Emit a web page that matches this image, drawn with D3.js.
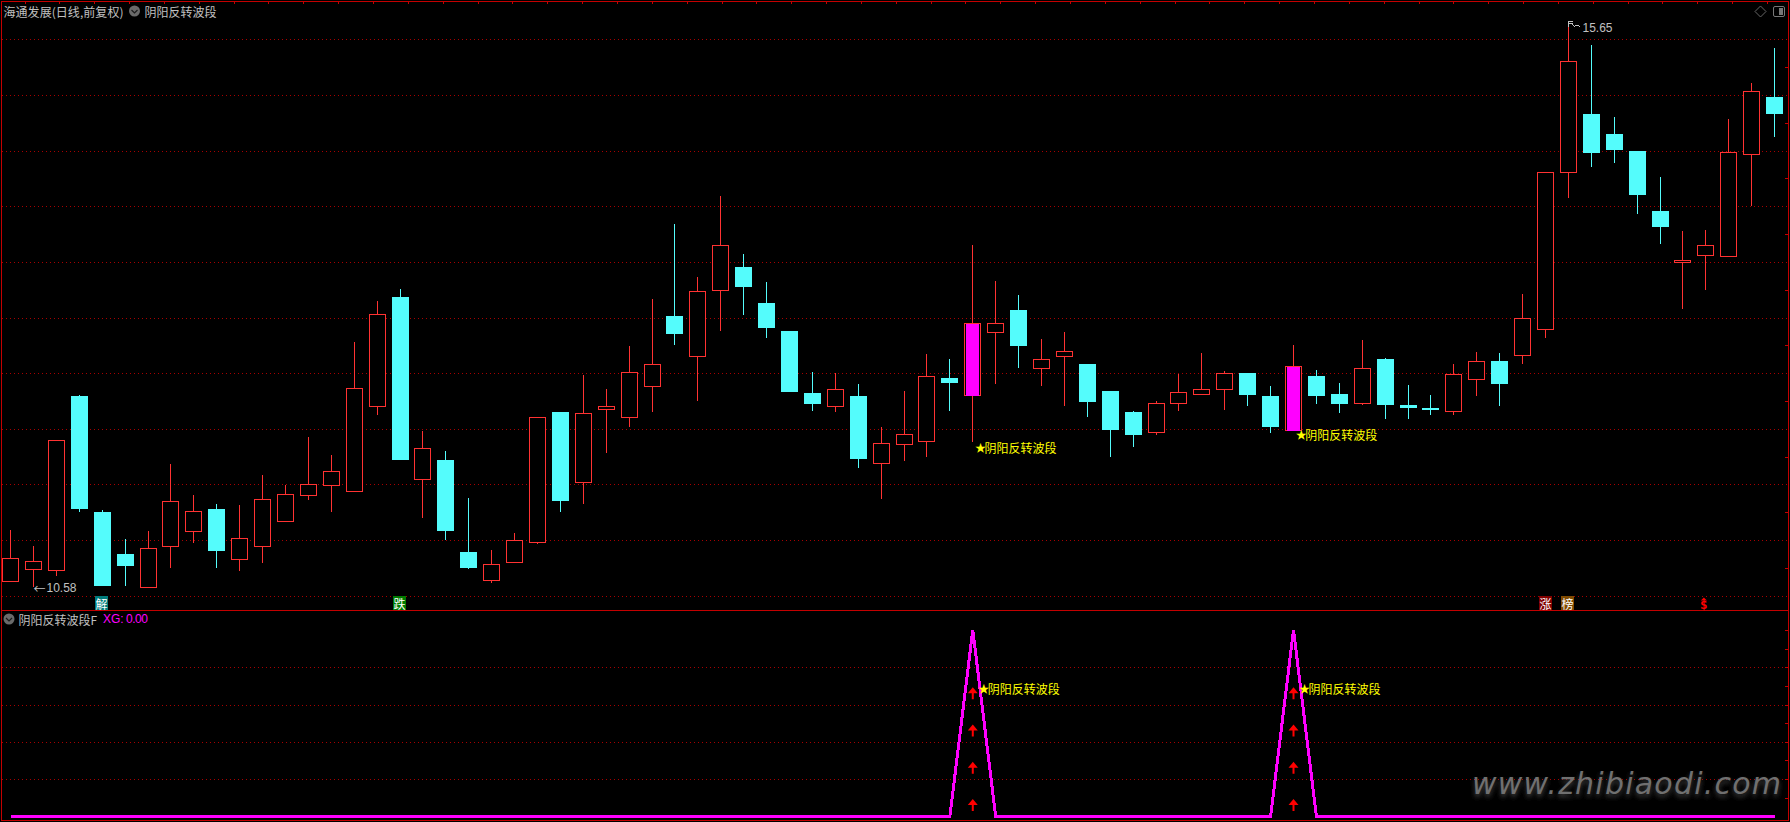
<!DOCTYPE html>
<html><head><meta charset="utf-8">
<script src="https://cdn.jsdelivr.net/npm/d3@7/dist/d3.min.js"></script>
<style>html,body{margin:0;padding:0;background:#000;overflow:hidden}svg{display:block}</style>
</head><body><svg id="c" width="1790" height="822"></svg>
<script>
const opens=[10.63,10.74,10.73,12.29,11.25,10.87,10.58,10.95,11.08,11.28,10.83,10.95,11.17,11.40,11.49,11.44,12.20,13.18,11.55,11.72,10.89,10.64,10.80,10.98,12.15,11.52,12.18,12.11,12.38,13.01,12.65,13.25,13.45,13.13,12.88,12.32,12.20,12.29,11.69,11.86,11.89,12.46,12.30,12.87,13.07,12.55,12.65,12.58,12.34,12.15,11.97,12.23,12.31,12.36,12.50,12.29,11.99,12.47,12.31,12.23,12.63,12.21,12.19,12.16,12.45,12.61,12.66,12.90,14.31,14.83,14.65,14.50,13.96,13.50,13.56,13.55,14.47,14.98];
const highs=[11.09,10.95,11.90,12.30,11.27,11.01,11.08,11.68,11.40,11.32,11.31,11.58,11.49,11.93,11.76,12.78,13.15,13.26,11.98,11.80,11.38,10.91,11.06,12.11,12.15,12.48,12.36,12.74,13.17,13.84,13.36,14.09,13.57,13.32,12.88,12.51,12.50,12.40,12.02,12.34,12.67,12.63,13.65,13.33,13.20,12.81,12.87,12.58,12.34,12.16,12.25,12.49,12.68,12.52,12.50,12.38,12.75,12.53,12.41,12.80,12.64,12.39,12.30,12.58,12.69,12.68,13.21,14.31,15.65,15.45,14.80,14.50,14.26,13.78,13.79,14.78,15.11,15.42];
const lows=[10.63,10.58,10.68,11.25,10.59,10.59,10.58,10.75,10.97,10.75,10.72,10.79,11.17,11.36,11.25,11.44,12.12,11.72,11.20,11.00,10.74,10.61,10.79,10.96,11.25,11.32,11.78,12.02,12.15,12.75,12.25,12.88,13.02,12.82,12.33,12.16,12.15,11.65,11.37,11.71,11.75,12.16,11.88,12.40,12.55,12.38,12.20,12.11,11.75,11.84,11.94,12.16,12.31,12.17,12.20,11.96,11.99,12.22,12.14,12.21,12.09,12.09,12.12,12.12,12.29,12.20,12.58,12.82,14.07,14.35,14.39,13.93,13.66,13.08,13.25,13.54,14.00,14.62];
const closes=[10.84,10.81,11.90,11.28,10.59,10.77,10.93,11.35,11.26,10.90,11.02,11.37,11.41,11.50,11.62,12.37,13.03,11.72,11.83,11.08,10.75,10.78,11.00,12.11,11.35,12.14,12.20,12.51,12.58,12.85,13.24,13.65,13.27,12.91,12.33,12.22,12.36,11.73,11.87,11.95,12.47,12.41,12.95,12.95,12.74,12.63,12.70,12.24,11.99,11.94,12.23,12.33,12.36,12.50,12.30,12.02,12.56,12.29,12.22,12.55,12.21,12.19,12.17,12.49,12.61,12.40,13.00,14.31,15.31,14.48,14.51,14.10,13.81,13.52,13.65,14.49,15.04,14.83];
const signalBars=[42,56];
const signalLabel="阴阳反转波段";
const priceTicks=[10.5,11,11.5,12,12.5,13,13.5,14,14.5,15,15.5];
const priceMinorTicks=[10.75,11.25,11.75,12.25,12.75,13.25,13.75,14.25,14.75,15.25];
const xgTicks=[0.2,0.4,0.6,0.8];
const xgMinorTicks=[0.1,0.2,0.3,0.4,0.5,0.6,0.7,0.8,0.9,1];
const arrowLevels=[0.66,0.46,0.26,0.06];
const xgLabelLevel=0.69;
const markerBars=[4,17,67,68];
const markerTexts=["解","跌","涨","榜"];
const markerColors=["#007b7b","#007b00","#800000","#7f4a00"];
const dollarBar=74;
const lowBar=1, lowValue="10.58";
const highBar=68, highText="15.65";
const titleMain="海通发展(日线,前复权)";
const titleSub="阴阳反转波段F";
const xgName="XG:", xgValue="0.00";
const watermark="www.zhibiaodi.com";

const RED="#ff3232",CYAN="#54fcfc",MAG="#ff00ff",BORDER="#c40000",GRID="#a80000",GRAY="#c0c0c0";
const CJK="'Noto Sans CJK SC','Noto Sans',sans-serif";
const LAT="'Liberation Sans',Arial,sans-serif";
const svg=d3.select("#c");
svg.append("rect").attr("width",1790).attr("height",822).attr("fill","#000");
const idx=d3.range(opens.length);
const x=d3.scalePoint().domain(idx).range([10.6,1774.6]);
const y=d3.scaleLinear().domain([10.5,15.5]).range([595.6,39.4]);
const ys=d3.scaleLinear().domain([0,1]).range([816.3,630]);
const px=v=>Math.round(v-0.5)+0.5;
const defs=svg.append("defs");
defs.append("filter").attr("id","wm").attr("x","-5%").attr("y","-30%").attr("width","110%").attr("height","170%")
  .append("feGaussianBlur").attr("stdDeviation",2.6);

function grid(scale,ticks){
  const g=svg.append("g").attr("transform","translate(2,0)")
    .call(d3.axisLeft(scale).tickValues(ticks).tickSize(-1786).tickFormat(""));
  g.select(".domain").remove();
  g.selectAll("line").attr("stroke",GRID).attr("stroke-dasharray","1 3").attr("shape-rendering","crispEdges");
  g.selectAll("text").remove();
}
grid(y,priceTicks); grid(ys,xgTicks);

// frame
const frame=svg.append("g").attr("stroke",BORDER).attr("shape-rendering","crispEdges");
[[0.5,1.5,1789,1.5],[0.5,610.5,1789,610.5],[0.5,820.5,1789,820.5],[1.5,1,1.5,821],[1788.5,1,1788.5,821]].forEach(l=>
  frame.append("line").attr("x1",l[0]).attr("y1",l[1]).attr("x2",l[2]).attr("y2",l[3]));
d3.range(0,51).forEach(i=>{const tx=px(25+i*34.85);
  frame.append("line").attr("x1",tx).attr("x2",tx).attr("y1",1).attr("y2",4);});
const rightAxis=(scale,ticks)=>{const g=svg.append("g").attr("transform","translate(1788,0)")
  .call(d3.axisLeft(scale).tickValues(ticks).tickSize(3).tickFormat(""));
  g.select(".domain").remove();g.selectAll("text").remove();
  g.selectAll("line").attr("stroke",BORDER).attr("shape-rendering","crispEdges");};
rightAxis(y,priceMinorTicks); rightAxis(ys,xgMinorTicks);

// candles
const candles=svg.append("g").attr("shape-rendering","crispEdges");
idx.forEach(i=>{
  const o=opens[i],h=highs[i],l=lows[i],c=closes[i],up=c>=o,cx=px(x(i));
  const col=up?RED:CYAN;
  const top=Math.round(y(Math.max(o,c))),bot=Math.round(y(Math.min(o,c)));
  candles.append("line").attr("x1",cx).attr("x2",cx).attr("y1",y(h)).attr("y2",y(l)).attr("stroke",col);
  if(up){
    candles.append("rect").attr("x",cx-8).attr("y",top+0.5).attr("width",16).attr("height",Math.max(bot-top,1))
      .attr("fill","#000").attr("stroke",RED);
    if(signalBars.includes(i)){
      candles.append("rect").attr("x",cx-6.5).attr("y",top+1).attr("width",13).attr("height",Math.max(bot-top,1))
        .attr("fill",MAG);
    }
  }else{
    candles.append("rect").attr("x",cx-8.5).attr("y",top).attr("width",17).attr("height",Math.max(bot-top,2)).attr("fill",CYAN);
  }
});

// labels on price panel
function label(text,lx,ly){
  const t=svg.append("text").attr("x",lx-1.5).attr("y",ly).attr("dominant-baseline","central")
    .attr("font-family",CJK).attr("font-size",12).attr("fill","#ffff00");
  t.append("tspan").attr("font-size",11).text("★");
  t.append("tspan").attr("dx",-1.5).text(text);
}
signalBars.forEach(i=>label(signalLabel,x(i)+3.8,y(lows[i])+4.5));

// low & high annotations
const lowT=svg.append("text").attr("x",x(lowBar)).attr("y",y(lows[lowBar])+1.5).attr("dominant-baseline","central")
  .attr("font-family",LAT).attr("font-size",12).attr("fill",GRAY);
lowT.append("tspan").attr("font-family",CJK).text("←");
lowT.append("tspan").attr("dx",1).text(lowValue);
const hx=px(x(highBar)),hy=y(highs[highBar]);
svg.append("path").attr("d",`M${hx},${hy} l0,-1.5 l4,0 M${hx},${hy} l0,4 M${hx},${hy+1} l4,0 M${hx+3},${hy+1} l3,2.5 l3,-1 l3,2`)
  .attr("fill","none").attr("stroke",GRAY).attr("stroke-width",1).attr("shape-rendering","crispEdges");
svg.append("text").attr("x",hx+14).attr("y",hy+5.2).attr("dominant-baseline","central")
  .attr("font-family",LAT).attr("font-size",12).attr("fill",GRAY).text(highText);

// markers
markerBars.forEach((b,k)=>{
  const cx=x(b);
  svg.append("rect").attr("x",Math.round(cx-7)).attr("y",596).attr("width",13).attr("height",14).attr("fill",markerColors[k]);
  svg.append("text").attr("x",Math.round(cx-7)+6.5).attr("y",603).attr("text-anchor","middle").attr("dominant-baseline","central")
    .attr("font-family",CJK).attr("font-size",12).attr("fill","#fff").text(markerTexts[k]);
});
const dx=x(dollarBar)-2;
svg.append("path").attr("d",`M${dx-3},600.5 L${dx},597.5 L${dx+3},600.5 Z`).attr("fill","#f00");
svg.append("text").attr("x",dx).attr("y",604.5).attr("text-anchor","middle").attr("dominant-baseline","central")
  .attr("font-family","'DejaVu Sans Mono',monospace").attr("font-weight","bold").attr("font-size",12.5).attr("fill","#f00").text("$");

// XG line
const xgValues=idx.map(i=>signalBars.includes(i)?1:0);
const line=d3.line().x((d,i)=>x(i)).y(d=>ys(d));
svg.append("path").attr("d",line(xgValues)).attr("fill","none").attr("stroke",MAG).attr("stroke-width",3)
  .attr("stroke-linejoin","miter").attr("stroke-miterlimit",2).attr("shape-rendering","crispEdges");

// arrows
signalBars.forEach(i=>arrowLevels.forEach(v=>{
  const ax=x(i),ay=ys(v);
  svg.append("path").attr("d",`M${ax},${ay-6} L${ax+5},${ay} L${ax+1},${ay} L${ax+1},${ay+6} L${ax-1},${ay+6} L${ax-1},${ay} L${ax-5},${ay} Z`)
    .attr("fill","#f00");
}));
signalBars.forEach(i=>label(signalLabel,x(i)+7,ys(xgLabelLevel)));

// titles
function icon(cx,cy){
  svg.append("circle").attr("cx",cx).attr("cy",cy).attr("r",5.5).attr("fill","#6a6a6a");
  svg.append("path").attr("d",`M${cx-3},${cy-1} L${cx},${cy+2} L${cx+3},${cy-1}`).attr("fill","none").attr("stroke","#1c1c1c").attr("stroke-width",1.2);
}
const txt=(s,tx,ty,fill,fam,len)=>{const t=svg.append("text").attr("x",tx).attr("y",ty).attr("dominant-baseline","central")
  .attr("font-family",fam).attr("font-size",12).attr("fill",fill).text(s);
  if(len)t.attr("textLength",len).attr("lengthAdjust","spacing");return t;};
txt(titleMain,3.5,11,GRAY,CJK,120);
icon(134.5,11);
txt(signalLabel,144.5,11,GRAY,CJK,72);
icon(9,619);
txt(titleSub,18.5,619,GRAY,CJK,78.5);
txt(xgName,103,619,MAG,LAT);
txt(xgValue,126,619,MAG,LAT,22);

// top-right tools
svg.append("path").attr("d","M1760.5,6 L1766,11.5 L1760.5,17 L1755,11.5 Z").attr("fill","none").attr("stroke","#666");
svg.append("rect").attr("x",1773.5).attr("y",6.5).attr("width",11).attr("height",10).attr("rx",1.5).attr("fill","none").attr("stroke","#777");
svg.append("rect").attr("x",1779).attr("y",8).attr("width",4).attr("height",7).attr("fill","#777");

// watermark
const wm=(col,f,dy)=>{const t=svg.append("text").attr("x",1472).attr("y",794+dy).attr("font-family","'DejaVu Sans',sans-serif")
  .attr("font-style","italic").attr("font-size",30).attr("fill",col).attr("textLength",309).attr("lengthAdjust","spacing").text(watermark);
  if(f)t.attr("filter","url(#wm)");};
wm("#444",true,3);
wm("#707070",false,0);
</script></body></html>
